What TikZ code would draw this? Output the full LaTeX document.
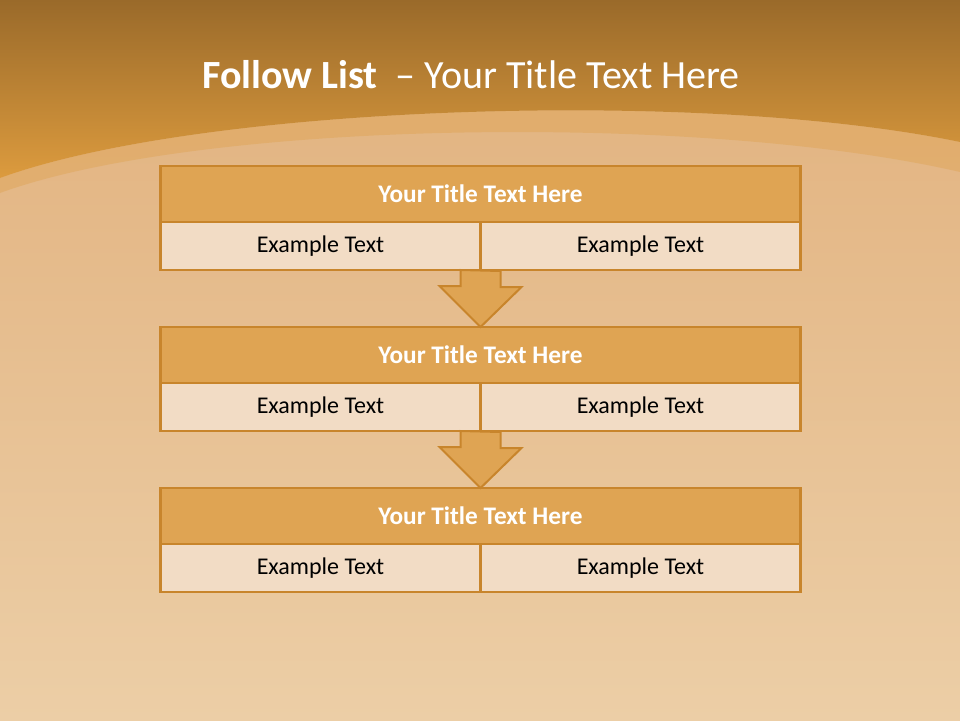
\documentclass[tikz,border=0pt]{standalone}
\usepackage{fontspec}
\setmainfont{Carlito}
\usepackage{tikz}
\usetikzlibrary{positioning, calc}
\definecolor{bandtop}{HTML}{9A6A2A}
\definecolor{bandbot}{HTML}{DC9B3E}
\definecolor{bgtop}{HTML}{E1B07C}
\definecolor{bgbot}{HTML}{ECCEA6}
\definecolor{edgeorange}{HTML}{C8852C}
\definecolor{headfill}{HTML}{DFA453}
\definecolor{cellfill}{HTML}{F2DCC5}

\begin{document}
\begin{tikzpicture}[
  x=1pt, y=-1pt,
  node distance=0pt,
  headbox/.style={
    draw=edgeorange, fill=headfill, line width=2.5pt, outer sep=0pt,
    minimum width=640pt, minimum height=56pt, text=white,
    font=\bfseries\fontsize{25.3}{30}\selectfont
  },
  cellbox/.style={
    draw=edgeorange, fill=cellfill, line width=2.5pt, outer sep=0pt,
    minimum width=320pt, minimum height=48pt, text=black,
    font=\fontsize{24}{28}\selectfont
  },
  flowarrow/.style={draw=edgeorange, fill=headfill, line width=2pt, line join=miter}
]
  % background
  \shade[top color=bgtop, bottom color=bgbot] (0,0) rectangle (960,720);
  \useasboundingbox (0,0) rectangle (960,720);
  \fill[headfill, opacity=0.45] (0,178) .. controls (200,105) and (700,88) .. (960,142)
    -- (960,172) .. controls (700,112) and (200,120) .. (0,193) -- cycle;
  \shade[top color=bandtop, bottom color=bandbot] (0,0) -- (960,0) -- (960,142)
    .. controls (700,88) and (200,105) .. (0,178) -- cycle;

  \node[text=white, font=\fontsize{40}{46}\selectfont] (title) at (471,75)
    {\textbf{Follow List}\ \ – Your Title Text Here};

  \node[headbox] (t1) at (480.5,194) {Your Title Text Here};
  \node[cellbox, below right=0pt and 0pt of t1.south west] (c1a) {Example Text};
  \node[cellbox, right=of c1a] (c1b) {Example Text};

  \node[headbox, below=57pt of c1a.south east] (t2) {Your Title Text Here};
  \node[cellbox, below right=0pt and 0pt of t2.south west] (c2a) {Example Text};
  \node[cellbox, right=of c2a] (c2b) {Example Text};

  \node[headbox, below=57pt of c2a.south east] (t3) {Your Title Text Here};
  \node[cellbox, below right=0pt and 0pt of t3.south west] (c3a) {Example Text};
  \node[cellbox, right=of c3a] (c3b) {Example Text};

  \draw[flowarrow] ($(c1a.south east)+(-20,0)$) -- ++(0,16) -- ++(-21,0) -- (t2.north)
    -- ++(41,-40) -- ++(-21,0) -- ++(0,-16) -- cycle;
  \draw[flowarrow] ($(c2a.south east)+(-20,0)$) -- ++(0,16) -- ++(-21,0) -- (t3.north)
    -- ++(41,-40) -- ++(-21,0) -- ++(0,-16) -- cycle;
\end{tikzpicture}
\end{document}
